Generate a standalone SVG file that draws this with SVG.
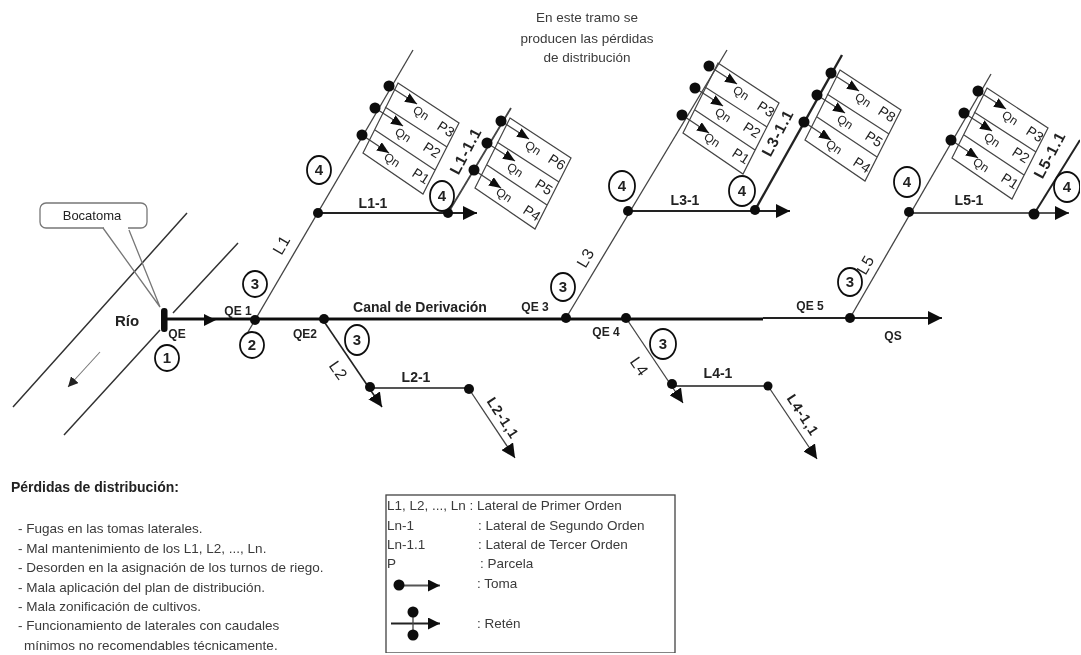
<svg xmlns="http://www.w3.org/2000/svg" width="1081" height="655" viewBox="0 0 1081 655">
<style>
text{font-family:"Liberation Sans",Arial,sans-serif;fill:#222}
.m{text-anchor:middle}
.b{font-weight:bold}
.s12{font-size:12px}
.s13{font-size:13px}
.s14{font-size:14px}
.lat{font-size:16px;letter-spacing:1px}
.lat3{font-size:15.5px;letter-spacing:1px;font-weight:bold}
.lat4{font-size:14px;letter-spacing:1px;font-weight:bold}
.g{fill:#3a3a3a;font-size:13.5px}
.th{fill:none;stroke:#111;stroke-width:3}
.md{fill:none;stroke:#222;stroke-width:2}
.tn{fill:none;stroke:#444;stroke-width:1.3}
.gr{fill:none;stroke:#555;stroke-width:1.8}
.box{fill:none;stroke:#444;stroke-width:1.2}
.dot{fill:#0a0a0a}
.c{fill:#fff;stroke:#111;stroke-width:1.8}
.ct{font-size:15px;font-weight:bold;text-anchor:middle;fill:#222}
</style>
<defs>
<filter id="soft" x="0" y="0" width="100%" height="100%"><feGaussianBlur stdDeviation="0.45"/></filter>
<marker id="ah" markerUnits="userSpaceOnUse" markerWidth="16" markerHeight="14" refX="14" refY="7" orient="auto"><path d="M0 0L14 7L0 14z" fill="#0a0a0a"/></marker>
<marker id="am" markerUnits="userSpaceOnUse" markerWidth="13" markerHeight="12" refX="12" refY="6" orient="auto"><path d="M0 0L12 6L0 12z" fill="#111"/></marker>
<marker id="ap" markerUnits="userSpaceOnUse" markerWidth="13" markerHeight="10" refX="12" refY="5" orient="auto"><path d="M0 0L12 5L0 10z" fill="#111"/></marker>
<marker id="as" markerUnits="userSpaceOnUse" markerWidth="12" markerHeight="10" refX="10" refY="5" orient="auto"><path d="M0 0L10 5L0 10z" fill="#222"/></marker>
<g id="parcel">
<path class="box" d="M0 0L61 40L25 111L-35 70zM-13 24L49 64M-23 47L37 87"/>
<path class="tn" marker-end="url(#ap)" d="M-9 3L19 21"/>
<path class="tn" marker-end="url(#ap)" d="M-23 25L5 43"/>
<path class="tn" marker-end="url(#ap)" d="M-36 52L-9 70"/>
<circle class="dot" cx="-9" cy="3" r="5.5"/>
<circle class="dot" cx="-23" cy="25" r="5.5"/>
<circle class="dot" cx="-36" cy="52" r="5.5"/>
<text class="s12 m" transform="translate(23,30) rotate(33)" y="4">Qn</text>
<text class="s12 m" transform="translate(5,52) rotate(33)" y="4">Qn</text>
<text class="s12 m" transform="translate(-6,77) rotate(33)" y="4">Qn</text>
</g>
</defs>
<rect width="1081" height="655" fill="#fff"/>
<g filter="url(#soft)">
<g id="connectors">
<path fill="none" stroke="#333" stroke-width="1.5" d="M13 407L187 213M64 435L160 330M173 313L238 243"/>
<path fill="none" stroke="#777" stroke-width="1.1" marker-end="url(#as)" d="M100 352L68 387"/>
<path class="th" d="M165 319H763"/>
<path class="md" marker-end="url(#ah)" d="M763 318H942"/>
<path fill="#111" d="M204 314L216 320L204 326z"/>
<path class="tn" d="M248 332L413 50"/>
<path class="md" marker-end="url(#ah)" d="M318 213H477"/>
<path class="tn" style="stroke-width:1.8" d="M448 213L511 108"/>
<path class="tn" d="M566 318L727 50"/>
<path class="md" marker-end="url(#ah)" d="M628 211H790"/>
<path class="md" style="stroke-width:2.4" d="M755 210L842 55"/>
<path class="tn" d="M850 318L991 74"/>
<path class="gr" marker-end="url(#ah)" d="M909 213H1069"/>
<path class="md" d="M1034 214L1080 140"/>
<path class="md" style="stroke-width:1.6" marker-end="url(#ah)" d="M323 320L382 407"/>
<path class="gr" d="M370 388H469"/>
<path class="tn" marker-end="url(#ah)" d="M469 389L515 458"/>
<path class="tn" marker-end="url(#ah)" d="M626 318L683 403"/>
<path class="gr" d="M672 386H768"/>
<path class="tn" marker-end="url(#ah)" d="M768 386L817 459"/>
</g>
<g id="bocatoma">
<rect x="40" y="203" width="107" height="25" rx="6" fill="#fff" stroke="#777" stroke-width="1.3"/>
<path fill="#fff" stroke="none" d="M104 226H128V230H104z"/>
<path fill="none" stroke="#777" stroke-width="1.3" d="M103 228L160 307L129 230"/>
<text class="s13 m" x="92" y="220">Bocatoma</text>
<rect x="161" y="308" width="6.5" height="24" rx="3" fill="#0a0a0a"/>
</g>
<g id="nodes">
<circle class="dot" cx="255" cy="320" r="5"/><circle class="dot" cx="324" cy="319" r="5"/>
<circle class="dot" cx="566" cy="318" r="5"/><circle class="dot" cx="626" cy="318" r="5"/>
<circle class="dot" cx="850" cy="318" r="5"/><circle class="dot" cx="318" cy="213" r="5"/>
<circle class="dot" cx="448" cy="213" r="5"/><circle class="dot" cx="628" cy="211" r="5"/>
<circle class="dot" cx="755" cy="210" r="5"/><circle class="dot" cx="909" cy="212" r="5"/>
<circle class="dot" cx="1034" cy="214" r="5.5"/><circle class="dot" cx="370" cy="387" r="5"/>
<circle class="dot" cx="469" cy="389" r="5"/><circle class="dot" cx="672" cy="384" r="5"/>
<circle class="dot" cx="768" cy="386" r="4.5"/>
</g>
<g id="parcels-l1" transform="translate(398,83)"><use href="#parcel"/>
<text class="s14 m" transform="translate(48,46) rotate(33)" y="5">P3</text><text class="s14 m" transform="translate(34,67) rotate(33)" y="5">P2</text><text class="s14 m" transform="translate(23,93) rotate(33)" y="5">P1</text></g>
<g id="parcels-l1-1-1" transform="translate(510,118)"><use href="#parcel"/>
<text class="s14 m" transform="translate(47,44) rotate(33)" y="5">P6</text><text class="s14 m" transform="translate(34,69) rotate(33)" y="5">P5</text><text class="s14 m" transform="translate(22,95) rotate(33)" y="5">P4</text></g>
<g id="parcels-l3" transform="translate(718,63)"><use href="#parcel"/>
<text class="s14 m" transform="translate(48,46) rotate(33)" y="5">P3</text><text class="s14 m" transform="translate(34,67) rotate(33)" y="5">P2</text><text class="s14 m" transform="translate(23,93) rotate(33)" y="5">P1</text></g>
<g id="parcels-l3-1-1" transform="translate(840,70)"><use href="#parcel"/>
<text class="s14 m" transform="translate(47,44) rotate(33)" y="5">P8</text><text class="s14 m" transform="translate(34,69) rotate(33)" y="5">P5</text><text class="s14 m" transform="translate(22,95) rotate(33)" y="5">P4</text></g>
<g id="parcels-l5" transform="translate(987,88)"><use href="#parcel"/>
<text class="s14 m" transform="translate(48,46) rotate(33)" y="5">P3</text><text class="s14 m" transform="translate(34,67) rotate(33)" y="5">P2</text><text class="s14 m" transform="translate(23,93) rotate(33)" y="5">P1</text></g>
<g id="markers">
<ellipse class="c" cx="167" cy="358" rx="12" ry="13"/><text class="ct" x="167" y="363">1</text>
<ellipse class="c" cx="252" cy="345" rx="12" ry="13"/><text class="ct" x="252" y="350">2</text>
<ellipse class="c" cx="255" cy="284" rx="12" ry="13"/><text class="ct" x="255" y="289">3</text>
<ellipse class="c" cx="357" cy="340" rx="12" ry="15"/><text class="ct" x="357" y="345">3</text>
<ellipse class="c" cx="563" cy="287" rx="12" ry="14"/><text class="ct" x="563" y="292">3</text>
<ellipse class="c" cx="663" cy="344" rx="13" ry="15"/><text class="ct" x="663" y="349">3</text>
<ellipse class="c" cx="850" cy="282" rx="12" ry="14"/><text class="ct" x="850" y="287">3</text>
<ellipse class="c" cx="319" cy="170" rx="12" ry="14"/><text class="ct" x="319" y="175">4</text>
<ellipse class="c" cx="442" cy="196" rx="12" ry="15"/><text class="ct" x="442" y="201">4</text>
<ellipse class="c" cx="622" cy="186" rx="13" ry="15"/><text class="ct" x="622" y="191">4</text>
<ellipse class="c" cx="742" cy="191" rx="13" ry="15"/><text class="ct" x="742" y="196">4</text>
<ellipse class="c" cx="907" cy="182" rx="13" ry="15"/><text class="ct" x="907" y="187">4</text>
<ellipse class="c" cx="1067" cy="187" rx="13" ry="15"/><text class="ct" x="1067" y="192">4</text>
</g>
<g id="labels">
<text class="m b" style="font-size:15px" x="127" y="326">Río</text>
<text class="s12 m b" x="177" y="338">QE</text>
<text class="s12 m b" x="238" y="315">QE 1</text>
<text class="s12 m b" x="305" y="338">QE2</text>
<text class="m b" x="420" y="312" style="font-size:14px">Canal de Derivación</text>
<text class="s12 m b" x="535" y="311">QE 3</text>
<text class="s12 m b" x="606" y="336">QE 4</text>
<text class="s12 m b" x="810" y="310">QE 5</text>
<text class="s12 m b" x="893" y="340">QS</text>
<text class="s14 m b" x="373" y="208">L1-1</text>
<text class="s14 m b" x="685" y="205">L3-1</text>
<text class="s14 m b" x="969" y="205">L5-1</text>
<text class="s14 m b" x="416" y="382">L2-1</text>
<text class="s14 m b" x="718" y="378">L4-1</text>
<text class="lat m" transform="translate(282,245) rotate(-60)" y="5">L1</text>
<text class="lat m" transform="translate(586,258) rotate(-60)" y="5">L3</text>
<text class="lat m" transform="translate(866,265) rotate(-60)" y="5">L5</text>
<text class="lat m" transform="translate(338,371) rotate(55)" y="5">L2</text>
<text class="lat m" transform="translate(639,367) rotate(55)" y="5">L4</text>
<text class="lat4 m" transform="translate(503,418) rotate(57)" y="5">L2-1,1</text>
<text class="lat4 m" transform="translate(803,415) rotate(57)" y="5">L4-1,1</text>
<text class="lat3 m" transform="translate(466,151) rotate(-62)" y="5">L1-1.1</text>
<text class="lat3 m" transform="translate(778,133) rotate(-62)" y="5">L3-1.1</text>
<text class="lat3 m" transform="translate(1050,155) rotate(-62)" y="5">L5-1.1</text>
<text class="g m" x="587" y="22">En este tramo se</text>
<text class="g m" x="587" y="43">producen las pérdidas</text>
<text class="g m" x="587" y="62">de distribución</text>
</g>
<g id="notes">
<text class="s14 b" x="11" y="492">Pérdidas de distribución:</text>
<text class="g" x="18" y="533">- Fugas en las tomas laterales.</text>
<text class="g" x="18" y="553">- Mal mantenimiento de los L1, L2, ..., Ln.</text>
<text class="g" x="18" y="572">- Desorden en la asignación de los turnos de riego.</text>
<text class="g" x="18" y="592">- Mala aplicación del plan de distribución.</text>
<text class="g" x="18" y="611">- Mala zonificación de cultivos.</text>
<text class="g" x="18" y="630">- Funcionamiento de laterales con caudales</text>
<text class="g" x="24" y="650">mínimos no recomendables técnicamente.</text>
</g>
<g id="legend">
<rect x="386" y="495" width="289" height="158" fill="none" stroke="#444" stroke-width="1.3"/>
<text class="g" x="387" y="510">L1, L2, ..., Ln : Lateral de Primer Orden</text>
<text class="g" x="387" y="530">Ln-1</text><text class="g" x="478" y="530">: Lateral de Segundo Orden</text>
<text class="g" x="387" y="549">Ln-1.1</text><text class="g" x="478" y="549">: Lateral de Tercer Orden</text>
<text class="g" x="387" y="568">P</text><text class="g" x="480" y="568">: Parcela</text>
<path class="gr" marker-end="url(#am)" d="M399 585.5H440"/>
<circle class="dot" cx="399" cy="585" r="5.5"/>
<text class="g" x="477" y="588">: Toma</text>
<path class="md" marker-end="url(#am)" d="M391 623.5H440"/>
<path class="tn" d="M413 612V635"/>
<circle class="dot" cx="413" cy="612" r="5.5"/><circle class="dot" cx="413" cy="635" r="5.5"/>
<text class="g" x="477" y="628">: Retén</text>
</g>
</g>
</svg>
